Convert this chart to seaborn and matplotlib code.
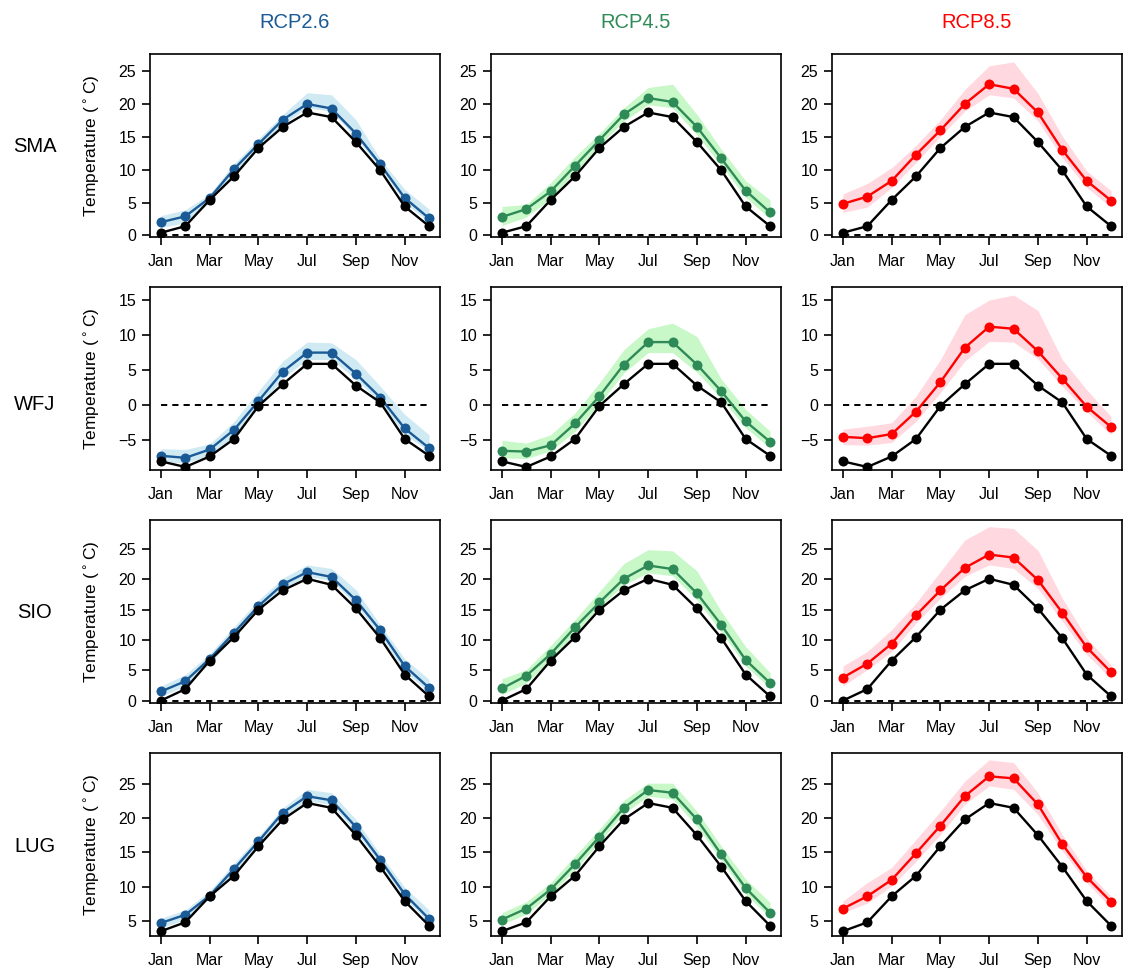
import numpy as np
import pandas as pd
import matplotlib
matplotlib.use("Agg")
import matplotlib.pyplot as plt
import seaborn as sns

# ---------------- data ----------------
months = list(range(1, 13))
month_ticks = [1, 3, 5, 7, 9, 11]
month_labels = ["Jan", "Mar", "May", "Jul", "Sep", "Nov"]
stations = ["SMA", "WFJ", "SIO", "LUG"]
scenarios = ["RCP2.6", "RCP4.5", "RCP8.5"]

# SMA
sma_obs = [0.4, 1.4, 5.4, 9.0, 13.3, 16.5, 18.7, 18.0, 14.2, 9.9, 4.4, 1.4]
sma_26 = [2.0, 2.9, 5.7, 10.1, 13.9, 17.6, 20.0, 19.3, 15.5, 10.8, 5.7, 2.6]
sma_26_lo = [1.2, 1.9, 5.0, 9.6, 13.3, 16.9, 19.4, 18.9, 14.8, 10.3, 5.0, 2.0]
sma_26_hi = [3.0, 3.9, 6.3, 10.9, 14.7, 18.4, 21.7, 21.4, 17.6, 11.6, 7.0, 4.0]
sma_45 = [2.8, 4.0, 6.7, 10.6, 14.5, 18.4, 20.9, 20.3, 16.5, 11.7, 6.8, 3.5]
sma_45_lo = [1.5, 2.8, 5.6, 9.6, 13.7, 17.4, 19.9, 19.4, 15.3, 10.6, 5.8, 2.5]
sma_45_hi = [4.4, 4.7, 8.0, 12.0, 15.5, 19.4, 22.5, 23.0, 18.4, 13.1, 8.3, 5.4]
sma_85 = [4.8, 5.9, 8.3, 12.3, 16.0, 20.0, 23.0, 22.3, 18.7, 13.0, 8.3, 5.3]
sma_85_lo = [3.5, 4.3, 7.3, 11.1, 15.1, 18.9, 21.4, 20.9, 17.4, 11.8, 7.3, 4.3]
sma_85_hi = [6.3, 7.9, 10.3, 13.7, 17.6, 22.2, 25.8, 26.4, 21.6, 15.1, 9.8, 6.8]

# WFJ
wfj_obs = [-8.0, -8.8, -7.3, -4.8, -0.1, 3.0, 5.9, 5.9, 2.8, 0.4, -4.8, -7.2]
wfj_26 = [-7.2, -7.5, -6.3, -3.5, 0.6, 4.8, 7.5, 7.5, 4.5, 1.1, -3.3, -6.1]
wfj_26_lo = [-8.1, -8.2, -7.2, -4.4, -0.4, 3.9, 6.5, 6.5, 3.7, 0.4, -4.2, -6.5]
wfj_26_hi = [-6.2, -6.3, -5.5, -2.3, 2.0, 6.3, 9.0, 8.9, 6.5, 2.7, -1.3, -4.2]
wfj_45 = [-6.5, -6.6, -5.7, -2.6, 1.3, 5.8, 9.0, 9.0, 5.8, 2.0, -2.3, -5.2]
wfj_45_lo = [-7.5, -7.6, -6.5, -3.7, 0.2, 4.6, 7.5, 7.5, 4.7, 1.0, -3.2, -6.1]
wfj_45_hi = [-5.0, -5.4, -4.2, -1.1, 3.2, 7.9, 10.9, 11.7, 9.8, 3.7, -0.6, -3.7]
wfj_85 = [-4.5, -4.7, -4.1, -0.9, 3.3, 8.2, 11.2, 10.9, 7.7, 3.8, -0.2, -3.1]
wfj_85_lo = [-5.6, -5.7, -5.3, -2.3, 1.8, 6.3, 9.1, 9.0, 6.6, 2.7, -0.9, -4.2]
wfj_85_hi = [-3.4, -3.0, -2.5, 1.3, 6.5, 12.9, 15.0, 15.7, 13.5, 6.5, 2.2, -1.6]

# SIO
sio_obs = [0.0, 1.9, 6.6, 10.5, 15.0, 18.2, 20.1, 19.1, 15.2, 10.3, 4.3, 0.7]
sio_26 = [1.5, 3.2, 6.9, 11.2, 15.6, 19.2, 21.2, 20.4, 16.6, 11.6, 5.7, 2.1]
sio_26_lo = [0.7, 2.4, 6.1, 10.6, 15.0, 18.5, 20.5, 19.8, 15.8, 10.7, 4.8, 1.4]
sio_26_hi = [2.4, 4.3, 7.7, 12.2, 16.6, 20.2, 22.4, 21.8, 18.3, 12.5, 6.9, 3.5]
sio_45 = [2.0, 4.1, 7.7, 12.1, 16.2, 20.1, 22.3, 21.7, 17.7, 12.5, 6.7, 2.9]
sio_45_lo = [1.0, 2.9, 6.6, 11.1, 15.4, 19.1, 21.1, 20.6, 16.6, 11.4, 5.7, 2.1]
sio_45_hi = [3.6, 5.1, 9.1, 13.4, 18.0, 22.6, 24.9, 24.7, 21.4, 14.7, 8.9, 4.6]
sio_85 = [3.8, 6.1, 9.4, 14.1, 18.2, 21.9, 24.1, 23.6, 19.9, 14.5, 8.8, 4.7]
sio_85_lo = [2.4, 5.1, 8.1, 12.8, 16.9, 20.5, 22.4, 21.8, 18.5, 13.1, 7.6, 3.6]
sio_85_hi = [5.7, 8.1, 11.7, 16.1, 21.3, 26.5, 28.7, 28.4, 24.8, 16.9, 10.3, 5.9]

# LUG
lug_obs = [3.5, 4.8, 8.6, 11.6, 15.9, 19.8, 22.2, 21.5, 17.5, 12.9, 7.9, 4.3]
lug_26 = [4.7, 5.9, 8.7, 12.6, 16.6, 20.8, 23.2, 22.6, 18.7, 13.9, 8.9, 5.3]
lug_26_lo = [4.0, 5.2, 8.3, 12.0, 16.0, 20.2, 22.5, 22.0, 18.0, 13.3, 8.3, 4.8]
lug_26_hi = [5.4, 6.6, 9.4, 13.4, 17.3, 21.5, 24.2, 23.7, 19.8, 14.7, 9.9, 6.6]
lug_45 = [5.2, 6.8, 9.6, 13.3, 17.3, 21.5, 24.1, 23.7, 19.8, 14.7, 9.8, 6.2]
lug_45_lo = [4.5, 6.0, 8.9, 12.5, 16.5, 20.7, 23.2, 22.8, 18.8, 13.9, 8.9, 5.5]
lug_45_hi = [6.2, 7.8, 10.6, 14.5, 18.4, 22.6, 25.1, 25.1, 21.0, 15.9, 11.1, 7.7]
lug_85 = [6.8, 8.6, 11.0, 14.9, 18.9, 23.2, 26.1, 25.8, 22.0, 16.2, 11.4, 7.8]
lug_85_lo = [6.2, 7.6, 10.1, 13.7, 17.6, 22.0, 24.7, 24.2, 20.5, 15.2, 10.6, 6.9]
lug_85_hi = [7.9, 10.6, 12.8, 16.9, 21.0, 25.4, 28.5, 28.1, 23.7, 17.6, 12.3, 8.6]

obs = {"SMA": sma_obs, "WFJ": wfj_obs, "SIO": sio_obs, "LUG": lug_obs}
proj = {
    ("SMA", "RCP2.6"): (sma_26, sma_26_lo, sma_26_hi),
    ("SMA", "RCP4.5"): (sma_45, sma_45_lo, sma_45_hi),
    ("SMA", "RCP8.5"): (sma_85, sma_85_lo, sma_85_hi),
    ("WFJ", "RCP2.6"): (wfj_26, wfj_26_lo, wfj_26_hi),
    ("WFJ", "RCP4.5"): (wfj_45, wfj_45_lo, wfj_45_hi),
    ("WFJ", "RCP8.5"): (wfj_85, wfj_85_lo, wfj_85_hi),
    ("SIO", "RCP2.6"): (sio_26, sio_26_lo, sio_26_hi),
    ("SIO", "RCP4.5"): (sio_45, sio_45_lo, sio_45_hi),
    ("SIO", "RCP8.5"): (sio_85, sio_85_lo, sio_85_hi),
    ("LUG", "RCP2.6"): (lug_26, lug_26_lo, lug_26_hi),
    ("LUG", "RCP4.5"): (lug_45, lug_45_lo, lug_45_hi),
    ("LUG", "RCP8.5"): (lug_85, lug_85_lo, lug_85_hi),
}
yticks = {"SMA": [0, 5, 10, 15, 20, 25], "WFJ": [-5, 0, 5, 10, 15],
          "SIO": [0, 5, 10, 15, 20, 25], "LUG": [5, 10, 15, 20, 25]}

# ---------------- style ----------------
line_col = {"RCP2.6": "#1a5a96", "RCP4.5": "#2e8b57", "RCP8.5": "#ff0000"}
band_col = {"RCP2.6": "#d0eaf4", "RCP4.5": "#c8f7c8", "RCP8.5": "#ffd9df"}
ylims = {"SMA": (-0.25, 27.6), "WFJ": (-9.23, 16.85), "SIO": (-0.4, 29.8), "LUG": (2.8, 29.5)}

sns.set_theme(style="ticks")
plt.rcParams["font.family"] = ["Liberation Sans", "DejaVu Sans"]
plt.rcParams["axes.linewidth"] = 1.2

W, H = 1123, 969
fig = plt.figure(figsize=(W / 100, H / 100), dpi=100)
fig.patch.set_facecolor("white")

col_left = [150, 491, 832]
row_top = [54, 287, 520, 753]
aw, ah = 290, 183
row_label_y = [147, 405, 612, 846]

for r, st in enumerate(stations):
    for c, sc in enumerate(scenarios):
        ax = fig.add_axes([col_left[c] / W, 1 - (row_top[r] + ah) / H, aw / W, ah / H])
        mean, lo, hi = proj[(st, sc)]
        ax.fill_between(months, lo, hi, color=band_col[sc], lw=0, zorder=1)
        df_p = pd.DataFrame({"month": months, "temp": mean})
        sns.lineplot(data=df_p, x="month", y="temp", ax=ax, color=line_col[sc],
                     marker="o", markersize=7.2, markeredgewidth=0, linewidth=1.7,
                     zorder=3)
        df_o = pd.DataFrame({"month": months, "temp": obs[st]})
        sns.lineplot(data=df_o, x="month", y="temp", ax=ax, color="black",
                     marker="o", markersize=7.2, markeredgewidth=0, linewidth=1.7,
                     zorder=4)
        ylo, yhi = ylims[st]
        if ylo < 0 < yhi:
            ax.plot([months[0], months[-1]], [0, 0], color="black", lw=1.4,
                    ls=(0, (3.2, 2.6)), zorder=2)
        ax.set_xlim(0.55, 12.45)
        ax.set_ylim(ylo, yhi)
        ax.set_xticks(month_ticks)
        ax.set_xticklabels(month_labels)
        ax.set_yticks(yticks[st])
        ax.tick_params(axis="both", direction="out", length=6, width=1.2,
                       labelsize=11.5, colors="black", pad=4)
        ax.tick_params(axis="x", pad=6)
        for s in ax.spines.values():
            s.set_visible(True)
            s.set_color("black")
            s.set_linewidth(1.2)
        ax.set_xlabel("")
        if c == 0:
            ax.set_ylabel("Temperature ($^\\circ$C)", fontsize=12.5, color="black")
            ax.yaxis.set_label_coords(-0.165, 0.5)
        else:
            ax.set_ylabel("")
        ax.grid(False)
    fig.text(35 / W, 1 - row_label_y[r] / H, st, ha="center", va="center",
             fontsize=14.5, color="black")

for c, sc in enumerate(scenarios):
    fig.text((col_left[c] + aw / 2) / W, 1 - 22 / H, sc, ha="center", va="center",
             fontsize=14.5, color=line_col[sc])

fig.savefig("out.png", dpi=100, facecolor="white")
